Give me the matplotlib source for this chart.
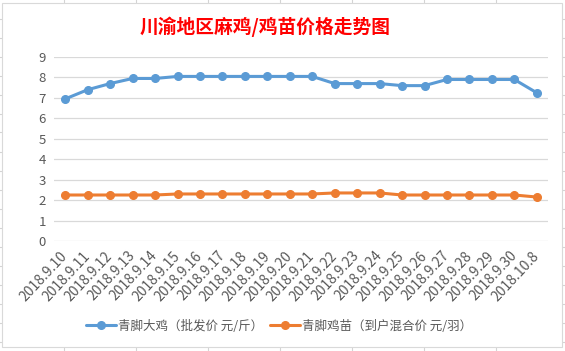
"""
川渝地区麻鸡/鸡苗价格走势图 - line chart in an Excel-like frame.
"""

import matplotlib
matplotlib.use("Agg")
import matplotlib.pyplot as plt
from matplotlib.lines import Line2D
from matplotlib.patches import Rectangle

plt.rcParams["font.family"] = ["Noto Sans CJK SC", "DejaVu Sans"]

dates = ["2018.9.10", "2018.9.11", "2018.9.12", "2018.9.13", "2018.9.14",
         "2018.9.15", "2018.9.16", "2018.9.17", "2018.9.18", "2018.9.19",
         "2018.9.20", "2018.9.21", "2018.9.22", "2018.9.23", "2018.9.24",
         "2018.9.25", "2018.9.26", "2018.9.27", "2018.9.28", "2018.9.29",
         "2018.9.30", "2018.10.8"]
big_chicken = [6.95, 7.4, 7.7, 7.95, 7.95, 8.05, 8.05, 8.05, 8.05, 8.05, 8.05,
               8.05, 7.7, 7.7, 7.7, 7.6, 7.6, 7.9, 7.9, 7.9, 7.9, 7.25]
chick = [2.25, 2.25, 2.25, 2.25, 2.25, 2.3, 2.3, 2.3, 2.3, 2.3, 2.3,
         2.3, 2.35, 2.35, 2.35, 2.25, 2.25, 2.25, 2.25, 2.25, 2.25, 2.15]
labels = ["青脚大鸡（批发价 元/斤）", "青脚鸡苗（到户混合价 元/羽）"]
title = "川渝地区麻鸡/鸡苗价格走势图"

W, H = 565, 351


def main():
    fig = plt.figure(figsize=(W / 100, H / 100), dpi=100)
    fig.patch.set_facecolor("white")

    # spreadsheet cell lines behind the chart
    cell = "#d4d4d4"
    for x in range(64, W, 72):
        fig.add_artist(Line2D([x / W, x / W], [0, 1], color=cell, lw=0.8, zorder=0))
    y = 18.5
    while y < H:
        fig.add_artist(Line2D([0, 1], [1 - y / H, 1 - y / H], color=cell, lw=0.8, zorder=0))
        y += 19

    # chart area
    fig.add_artist(Rectangle((2 / W, 1 - 347 / H), 560 / W, 344 / H,
                             facecolor="white", edgecolor="#d9d9d9", lw=0.8, zorder=1))

    ax = fig.add_axes([54 / W, 1 - 241 / H, 494 / W, 184 / H], zorder=2)
    ax.patch.set_alpha(0)

    x = list(range(len(dates)))
    ax.plot(x, big_chicken, color="#5b9bd5", lw=2.2, marker="o", ms=5.5,
            label=labels[0], solid_capstyle="round")
    ax.plot(x, chick, color="#ed7d31", lw=2.2, marker="o", ms=5.5,
            label=labels[1], solid_capstyle="round")

    ax.set_xlim(-0.5, len(dates) - 0.5)
    ax.set_ylim(0, 9)
    ax.set_yticks(range(10))
    ax.grid(axis="y", color="#d9d9d9", lw=0.9)
    ax.set_axisbelow(True)
    for s in ax.spines.values():
        s.set_visible(False)

    ax.set_xticks(x)
    ax.set_xticklabels(dates, rotation=47, ha="right", va="center",
                       rotation_mode="anchor")
    ax.tick_params(axis="x", length=0, pad=9, labelsize=10, labelcolor="#595959")
    ax.tick_params(axis="y", length=0, pad=6, labelsize=9.5, labelcolor="#595959")

    fig.text(265 / W, 1 - 27 / H, title, color="red", fontsize=13.5,
             fontweight="bold", ha="center", va="center")

    fig.legend(loc="center", bbox_to_anchor=(279 / W, 1 - 326 / H), ncol=2,
               frameon=False, fontsize=9, labelcolor="#595959",
               handlelength=2.4, handletextpad=0.2, columnspacing=0.5)

    fig.savefig("out.png", dpi=100)


if __name__ == "__main__":
    main()
